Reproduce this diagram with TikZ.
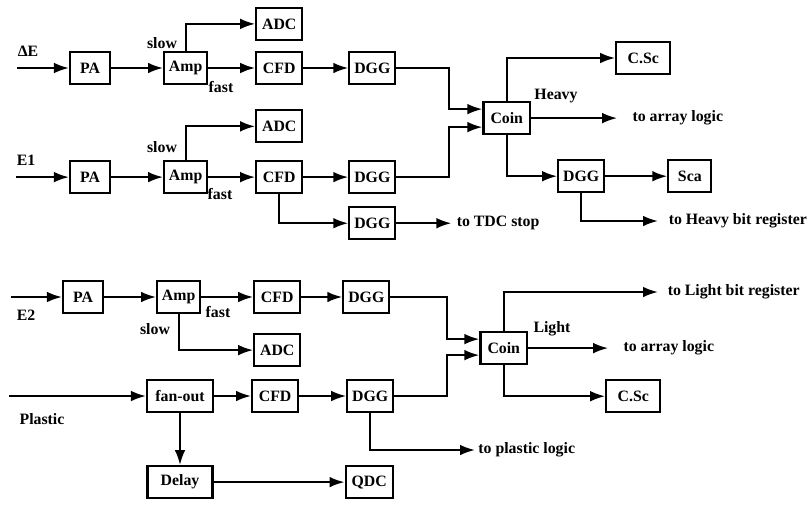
\documentclass[tikz,border=0pt]{standalone}
\usepackage{fontspec}
\setmainfont{Liberation Serif}
\usetikzlibrary{positioning,arrows.meta}

\begin{document}
\begin{tikzpicture}[
      x=0.3mm, y=-0.3mm,
      every node/.style={font=\bfseries\fontsize{13.5}{16}\selectfont},
      box/.style={draw, line width=1.8pt, inner sep=1pt,
                  minimum height=9.6mm, minimum width=13.8mm},
      lbl/.style={inner sep=1pt},
      arrow/.style={-{Latex[length=4.5mm,width=3.2mm]}, line width=1.8pt},
  ]
    \useasboundingbox (0,0) rectangle (810,504);

    % Row 1: Delta E
    \node[box, minimum width=12mm] (pa1) at (90,68) {PA};
    \node[box, minimum width=12.9mm, right=15.6mm of pa1] (amp1) {Amp};
    \node[box, right=14.1mm of amp1] (cfd1) {CFD};
    \node[box, right=13.5mm of cfd1] (dgg1) {DGG};
    \node[box, above=3mm of cfd1] (adc1) {ADC};
    \coordinate[left=15.6mm of pa1] (in1);
    \node[lbl] (lblDE) at (28,51) {ΔE};
    \node[lbl] (slow1) at (162,43) {slow};
    \node[lbl] (fast1) at (221,87) {fast};
    \draw[arrow] (in1) -- (pa1);
    \draw[arrow] (pa1) -- (amp1);
    \draw[arrow] (amp1) -- (cfd1);
    \draw[arrow] (cfd1) -- (dgg1);
    \draw[arrow] (amp1.north) |- (adc1.west);

    % Row 2: E1
    \node[box, minimum width=12mm, below=22.5mm of pa1] (pa2) {PA};
    \node[box, minimum width=12.9mm, right=15.6mm of pa2] (amp2) {Amp};
    \node[box, right=14.1mm of amp2] (cfd2) {CFD};
    \node[box, right=13.5mm of cfd2] (dgg2a) {DGG};
    \node[box, above=5mm of cfd2] (adc2) {ADC};
    \node[box, below=3.6mm of dgg2a] (dgg2b) {DGG};
    \coordinate[left=15.9mm of pa2] (in2);
    \coordinate[right=16.5mm of dgg2b] (tdcEnd);
    \node[lbl] (lblE1) at (26,160) {E1};
    \node[lbl] (slow2) at (162,147) {slow};
    \node[lbl] (fast2) at (220,194) {fast};
    \node[lbl, right=1.2mm of tdcEnd] (tdc) {to TDC stop};
    \draw[arrow] (in2) -- (pa2);
    \draw[arrow] (pa2) -- (amp2);
    \draw[arrow] (amp2) -- (cfd2);
    \draw[arrow] (cfd2) -- (dgg2a);
    \draw[arrow] (amp2.north) |- (adc2.west);
    \draw[arrow] (cfd2.south) |- (dgg2b.west);
    \draw[arrow] (dgg2b) -- (tdcEnd);

    % Heavy coincidence
    \node[box, minimum width=14mm, below right=4.8mm and 25.8mm of dgg1] (coin1) {Coin};
    \node[box, minimum width=16.2mm, above right=7.8mm and 25.2mm of coin1] (csc1) {C.Sc};
    \node[box, below right=7.2mm and 7.8mm of coin1] (dgg5) {DGG};
    \node[box, minimum width=12.9mm, right=18.6mm of dgg5] (sca) {Sca};
    \coordinate[right=25.8mm of coin1] (arrEndH);
    \coordinate (heavyEnd) at (658,221);
    \node[lbl] (heavy) at (556,96) {Heavy};
    \node[lbl, right=4.2mm of arrEndH] (arrH) {to array logic};
    \node[lbl, right=2.8mm of heavyEnd] (hbit) {to Heavy bit register};
    \draw[arrow] (dgg1.east) -| ([xshift=-9.9mm, yshift=2.7mm]coin1.west) -- ([yshift=2.7mm]coin1.west);
    \draw[arrow] (dgg2a.east) -| ([xshift=-9.9mm, yshift=-2.7mm]coin1.west) -- ([yshift=-2.7mm]coin1.west);
    \draw[arrow] (coin1.north) |- (csc1.west);
    \draw[arrow] (coin1) -- (arrEndH);
    \draw[arrow] (coin1.south) |- (dgg5.west);
    \draw[arrow] (dgg5) -- (sca);
    \draw[arrow] (dgg5.south) |- (heavyEnd);

    % Row 3: E2
    \node[box, minimum width=12mm] (pa3) at (83,297) {PA};
    \node[box, minimum width=12.9mm, right=15.6mm of pa3] (amp3) {Amp};
    \node[box, right=15.6mm of amp3] (cfd3) {CFD};
    \node[box, right=12.3mm of cfd3] (dgg3) {DGG};
    \node[box, below=5.7mm of cfd3] (adc3) {ADC};
    \coordinate[left=15.3mm of pa3] (in3);
    \node[lbl] (lblE2) at (26,315) {E2};
    \node[lbl] (slow3) at (155,329) {slow};
    \node[lbl] (fast3) at (218,312) {fast};
    \draw[arrow] (in3) -- (pa3);
    \draw[arrow] (pa3) -- (amp3);
    \draw[arrow] (amp3) -- (cfd3);
    \draw[arrow] (cfd3) -- (dgg3);
    \draw[arrow] (amp3.south) |- (adc3.west);

    % Row 4: Plastic
    \node[box, minimum width=19.8mm] (fanout) at (180,396) {fan-out};
    \node[box, right=11.1mm of fanout] (cfd4) {CFD};
    \node[box, right=14.1mm of cfd4] (dgg4) {DGG};
    \node[box, minimum width=19.5mm, below=15.6mm of fanout] (delay) {Delay};
    \node[box, minimum width=14.1mm, right=39.3mm of delay] (qdc) {QDC};
    \coordinate[left=41.1mm of fanout] (in4);
    \coordinate (plasEnd) at (475,450);
    \node[lbl] (lblPl) at (42,419) {Plastic};
    \node[lbl, right=0.6mm of plasEnd] (plas) {to plastic logic};
    \draw[arrow] (in4) -- (fanout);
    \draw[arrow] (fanout) -- (cfd4);
    \draw[arrow] (cfd4) -- (dgg4);
    \draw[arrow] (fanout) -- (delay);
    \draw[arrow] (delay) -- (qdc);
    \draw[arrow] (dgg4.south) |- (plasEnd);

    % Light coincidence
    \node[box, minimum width=14mm, below right=5.1mm and 26.7mm of dgg3] (coin2) {Coin};
    \node[box, minimum width=16.2mm, below right=4.2mm and 23.1mm of coin2] (csc2) {C.Sc};
    \coordinate[right=24mm of coin2] (arrEndL);
    \coordinate (lightEnd) at (658,292);
    \node[lbl] (light) at (552,329) {Light};
    \node[lbl, right=4.2mm of arrEndL] (arrL) {to array logic};
    \node[lbl, right=2.5mm of lightEnd] (lbit) {to Light bit register};
    \draw[arrow] (dgg3.east) -| ([xshift=-9.6mm, yshift=2.7mm]coin2.west) -- ([yshift=2.7mm]coin2.west);
    \draw[arrow] (dgg4.east) -| ([xshift=-9.6mm, yshift=-2.1mm]coin2.west) -- ([yshift=-2.1mm]coin2.west);
    \draw[arrow] (coin2.north) |- (lightEnd);
    \draw[arrow] (coin2) -- (arrEndL);
    \draw[arrow] (coin2.south) |- (csc2.west);
  \end{tikzpicture}
\end{document}
